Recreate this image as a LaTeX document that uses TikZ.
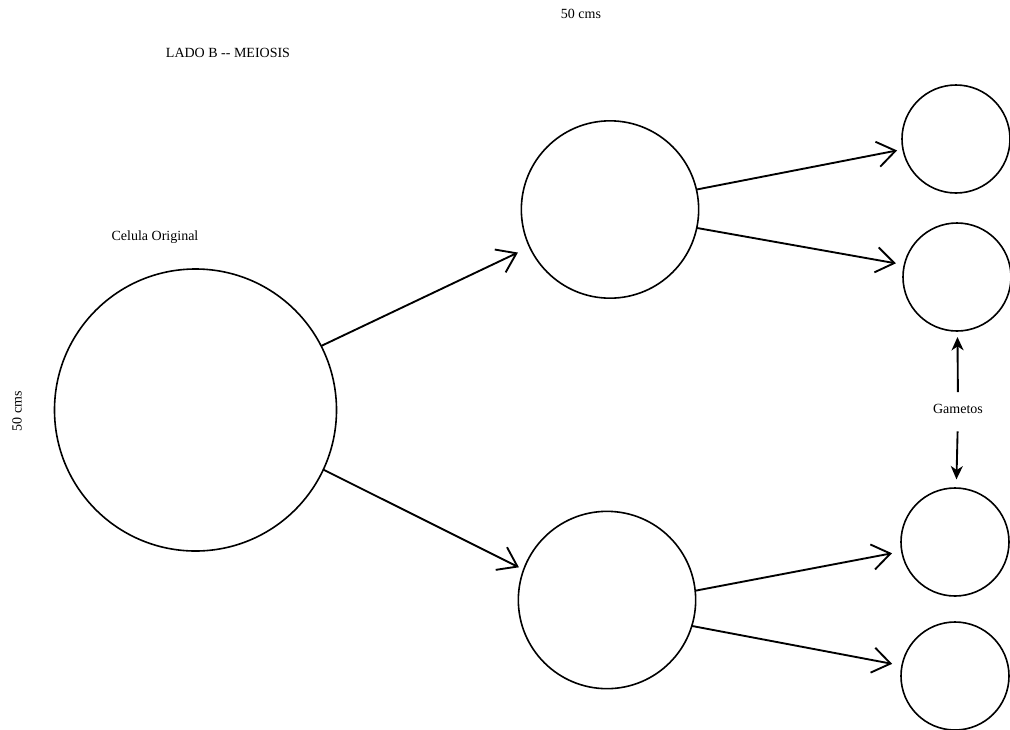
\documentclass[tikz,border=0pt]{standalone}
\usepackage{fontspec}
\setmainfont{Liberation Serif}
\usetikzlibrary{arrows.meta}
\begin{document}
\begin{tikzpicture}[x=0.75pt,y=-0.75pt,
  cell/.style={draw,circle,line width=1.2pt,inner sep=0pt,outer sep=0pt},
  bigcell/.style={cell,minimum size=211.5pt},
  midcell/.style={cell,minimum size=133pt},
  smallcell/.style={cell,minimum size=81pt},
  split/.style={line width=1.4pt,-{Straight Barb[length=13.5pt,width=19pt,line width=1.4pt]}},
  gam/.style={line width=1.4pt,-{Stealth[length=10pt,width=9pt,inset=3pt]}},
  lbl/.style={font=\fontsize{10.5pt}{12pt}\selectfont,inner sep=0pt}]
\useasboundingbox (0,0) rectangle (1010,729);
\node[bigcell] (big) at (195.5,410) {};
\node[midcell] (mtop) at (610,209.5) {};
\node[midcell] (mbot) at (607,600) {};
\node[smallcell] (r1) at (956,139) {};
\node[smallcell] (r2) at (957,277) {};
\node[smallcell] (r3) at (955,542) {};
\node[smallcell] (r4) at (955,676) {};
\node[lbl] (title) at (228,53) {LADO B -{}- MEIOSIS};
\node[lbl] (top50) at (581,14) {50 cms};
\node[lbl] (orig) at (155,237) {Celula Original};
\node[lbl,rotate=90] (side50) at (17,411) {50 cms};
\node[lbl] (gamt) at (958,409) {Gametos};
\draw[split,shorten >=9.75pt] (big.27) -- (mtop.205);
\draw[split,shorten >=4pt] (big.-25) -- (mbot.160);
\draw[split,shorten >=4.5pt] (mtop.13) -- (r1.191);
\draw[split,shorten >=6.5pt] (mtop.-12) -- (r2.167);
\draw[split,shorten >=7.5pt] (mbot.6) -- (r3.190);
\draw[split,shorten >=7.5pt] (mbot.-17) -- (r4.169);
\draw[gam,shorten <=9pt,shorten >=4.5pt] (gamt.north) -- (r2);
\draw[gam,shorten <=13pt,shorten >=6.5pt] (gamt.south) -- (r3);
\end{tikzpicture}
\end{document}
